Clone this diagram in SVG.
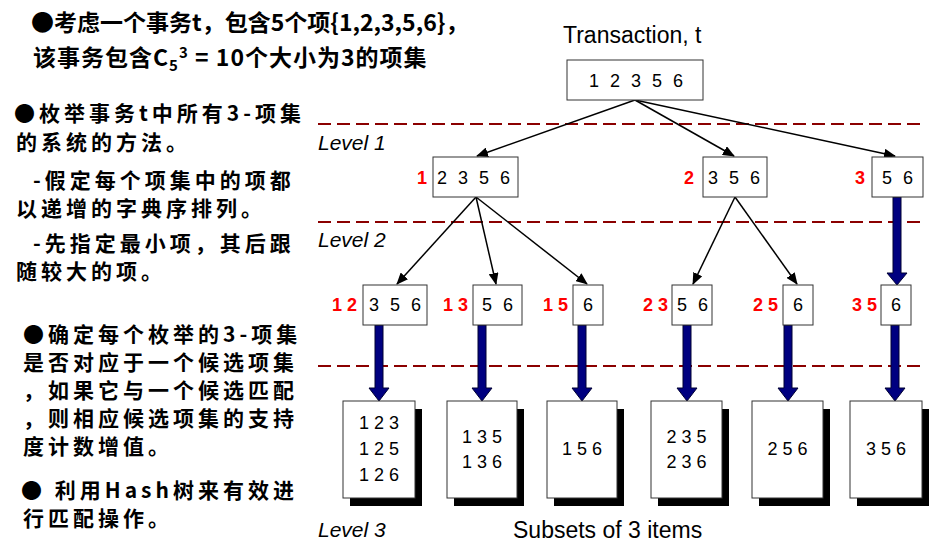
<svg xmlns="http://www.w3.org/2000/svg" width="933" height="552" viewBox="0 0 933 552">
<style>
.cn{font-family:"Noto Sans CJK SC","Noto Sans",sans-serif;font-weight:700;fill:#000}
.top{font-size:23px}
.left{font-size:21px;letter-spacing:4px}
.lbl{font-family:"Liberation Sans",Arial,sans-serif;fill:#000}
.lvl{font-size:21px;font-style:italic}
.big{font-size:23px}
.num{font-family:"Liberation Sans",Arial,sans-serif;font-size:18px;fill:#000;letter-spacing:3px}
.leaf{font-family:"Liberation Sans",Arial,sans-serif;font-size:18px;fill:#000;text-anchor:middle}
.red{font-family:"Liberation Sans",Arial,sans-serif;font-size:18px;font-weight:700;fill:#ff0000}
.box{fill:#fff;stroke:#333;stroke-width:1}
.page{fill:#fff;stroke:#333;stroke-width:1}
.shadow{fill:#000}
.dash{stroke:#8b0000;stroke-width:2;stroke-dasharray:13 6;fill:none}
.thin{stroke:#000;stroke-width:1.5;fill:none;marker-end:url(#ah)}
.fat{fill:#000080;stroke:#000033;stroke-width:1}
</style>
<defs>
<marker id="ah" markerWidth="12" markerHeight="10" refX="11" refY="5" orient="auto" markerUnits="userSpaceOnUse">
<path d="M0,0 L12,5 L0,10 z" fill="#000"/>
</marker>
</defs>

<g id="text-left">
<text class="cn top" x="31" y="31">●考虑一个事务t，包含5个项{1,2,3,5,6}，</text>
<text class="cn top" x="33" y="66" letter-spacing="1">该事务包含C<tspan font-size="15" dy="5">5</tspan><tspan font-size="15" dy="-13">3</tspan><tspan dy="8"> = 10个大小为3的项集</tspan></text>
<text class="cn left" x="14" y="121">●枚举事务t中所有3-项集</text>
<text class="cn left" x="16" y="150">的系统的方法。</text>
<text class="cn left" x="33" y="188">-假定每个项集中的项都</text>
<text class="cn left" x="16" y="216">以递增的字典序排列。</text>
<text class="cn left" x="33" y="251">-先指定最小项，其后跟</text>
<text class="cn left" x="16" y="279">随较大的项。</text>
<text class="cn left" x="23" y="342">●确定每个枚举的3-项集</text>
<text class="cn left" x="23" y="370">是否对应于一个候选项集</text>
<text class="cn left" x="23" y="398">，如果它与一个候选匹配</text>
<text class="cn left" x="23" y="426">，则相应候选项集的支持</text>
<text class="cn left" x="23" y="454">度计数增值。</text>
<text class="cn left" x="21" y="498">● 利用Hash树来有效进</text>
<text class="cn left" x="23" y="526">行匹配操作。</text>
</g>

<g id="levels">
<line class="dash" x1="318" y1="124" x2="926" y2="124"/>
<line class="dash" x1="318" y1="222" x2="926" y2="222"/>
<line class="dash" x1="318" y1="366" x2="926" y2="366"/>
<text class="lbl lvl" x="318" y="150">Level 1</text>
<text class="lbl lvl" x="318" y="247">Level 2</text>
<text class="lbl lvl" x="318" y="537">Level 3</text>
<text class="lbl big" x="513" y="538">Subsets of 3 items</text>
<text class="lbl big" x="563" y="43">Transaction, t</text>
</g>

<g id="connectors">
<line class="thin" x1="635" y1="100" x2="477" y2="156"/>
<line class="thin" x1="635" y1="100" x2="734" y2="156"/>
<line class="thin" x1="635" y1="100" x2="895" y2="156"/>
<line class="thin" x1="476" y1="197" x2="397" y2="284"/>
<line class="thin" x1="476" y1="197" x2="496" y2="284"/>
<line class="thin" x1="476" y1="197" x2="587" y2="284"/>
<line class="thin" x1="735" y1="197" x2="693" y2="284"/>
<line class="thin" x1="735" y1="197" x2="797" y2="284"/>
<path class="fat" d="M893,197 L901,197 L901,273 L907,273 L897,285 L887,273 L893,273 Z"/>
<path class="fat" d="M375,325 L383,325 L383,388 L389,388 L379,401 L369,388 L375,388 Z"/>
<path class="fat" d="M478,325 L486,325 L486,388 L492,388 L482,401 L472,388 L478,388 Z"/>
<path class="fat" d="M578,325 L586,325 L586,388 L592,388 L582,401 L572,388 L578,388 Z"/>
<path class="fat" d="M683,325 L691,325 L691,388 L697,388 L687,401 L677,388 L683,388 Z"/>
<path class="fat" d="M784,325 L792,325 L792,388 L798,388 L788,401 L778,388 L784,388 Z"/>
<path class="fat" d="M891,325 L899,325 L899,388 L905,388 L895,401 L885,388 L891,388 Z"/>
</g>

<g id="root">
<rect class="box" x="567" y="60" width="136" height="40"/>
<text class="num" x="589" y="87">1 2 3 5 6</text>
</g>

<g id="n1">
<rect class="box" x="433" y="157" width="85" height="40"/>
<text class="num" x="437" y="184">2 3 5 6</text>
<text class="red" x="417" y="184">1</text>
</g>
<g id="n2">
<rect class="box" x="703" y="157" width="64" height="40"/>
<text class="num" x="708" y="184">3 5 6</text>
<text class="red" x="684" y="184">2</text>
</g>
<g id="n3">
<rect class="box" x="872" y="157" width="51" height="40"/>
<text class="num" x="882" y="184">5 6</text>
<text class="red" x="855" y="184">3</text>
</g>

<g id="n12">
<rect class="box" x="363" y="285" width="64" height="40"/>
<text class="num" x="369" y="311">3 5 6</text>
<text class="red" x="332" y="311">1 2</text>
</g>
<g id="n13">
<rect class="box" x="473" y="285" width="49" height="40"/>
<text class="num" x="482" y="311">5 6</text>
<text class="red" x="443" y="311">1 3</text>
</g>
<g id="n15">
<rect class="box" x="573" y="285" width="30" height="40"/>
<text class="num" x="583" y="311">6</text>
<text class="red" x="543" y="311">1 5</text>
</g>
<g id="n23">
<rect class="box" x="672" y="285" width="40" height="40"/>
<text class="num" x="677" y="311">5 6</text>
<text class="red" x="643" y="311">2 3</text>
</g>
<g id="n25">
<rect class="box" x="783" y="285" width="30" height="40"/>
<text class="num" x="793" y="311">6</text>
<text class="red" x="753" y="311">2 5</text>
</g>
<g id="n35">
<rect class="box" x="881" y="285" width="30" height="40"/>
<text class="num" x="891" y="311">6</text>
<text class="red" x="852" y="311">3 5</text>
</g>

<g id="leaf1">
<rect class="shadow" x="350" y="409" width="72" height="97"/>
<rect class="page" x="343" y="401" width="72" height="97"/>
<text class="leaf" x="379" y="429">1 2 3</text>
<text class="leaf" x="379" y="455">1 2 5</text>
<text class="leaf" x="379" y="481">1 2 6</text>
</g>
<g id="leaf2">
<rect class="shadow" x="454" y="409" width="70" height="97"/>
<rect class="page" x="447" y="401" width="70" height="97"/>
<text class="leaf" x="482" y="443">1 3 5</text>
<text class="leaf" x="482" y="468">1 3 6</text>
</g>
<g id="leaf3">
<rect class="shadow" x="554" y="409" width="70" height="97"/>
<rect class="page" x="547" y="401" width="70" height="97"/>
<text class="leaf" x="582" y="455">1 5 6</text>
</g>
<g id="leaf4">
<rect class="shadow" x="658" y="409" width="71" height="97"/>
<rect class="page" x="651" y="401" width="71" height="97"/>
<text class="leaf" x="686.5" y="443">2 3 5</text>
<text class="leaf" x="686.5" y="468">2 3 6</text>
</g>
<g id="leaf5">
<rect class="shadow" x="759" y="409" width="71" height="97"/>
<rect class="page" x="752" y="401" width="71" height="97"/>
<text class="leaf" x="787.5" y="455">2 5 6</text>
</g>
<g id="leaf6">
<rect class="shadow" x="857" y="409" width="72" height="97"/>
<rect class="page" x="850" y="401" width="72" height="97"/>
<text class="leaf" x="886" y="455">3 5 6</text>
</g>
</svg>
